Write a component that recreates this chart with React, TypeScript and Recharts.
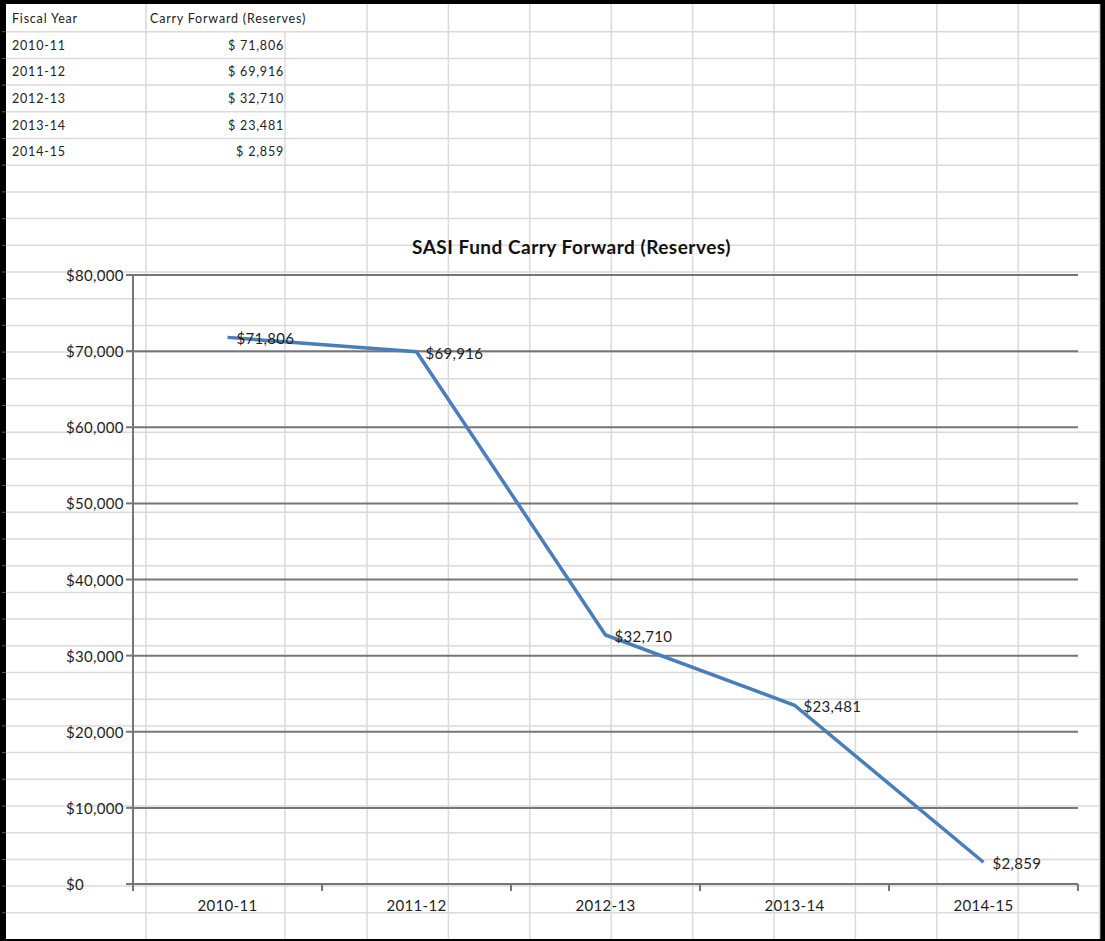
import React from 'react';
import { LineChart, Line, XAxis, YAxis, CartesianGrid, LabelList } from 'recharts';

const fiscalYears = ['2010-11', '2011-12', '2012-13', '2013-14', '2014-15'];
const carryForward = [71806, 69916, 32710, 23481, 2859];
const yTicks = [0, 10000, 20000, 30000, 40000, 50000, 60000, 70000, 80000];
const tableHeaders = ['Fiscal Year', 'Carry Forward (Reserves)'];
const chartTitle = 'SASI Fund Carry Forward (Reserves)';

const data = fiscalYears.map((year, i) => ({ year, amount: carryForward[i] }));

// page layout (screenshot of a spreadsheet)
const W = 1105;
const H = 941;
const PLOT_LEFT = 133;
const PLOT_RIGHT = 1078;
const PLOT_TOP = 275;
const PLOT_BOTTOM = 884;
const Y_AXIS_W = 70;
const X_AXIS_H = 30;
const Y_LABEL_X = 66;

const ROW_TOP = 5;
const ROW_H = 26.7;
const FONT = 'Lato, "Open Sans", sans-serif';
const AXIS_GRAY = '#767676';
const SHEET_GRID = '#dadada';
const TEXT = '#1e1e1e';

const colLines = [146, 285, 367];
for (let i = 1; i <= 9; i++) colLines.push(367 + 81.4 * i);
const rowLines: number[] = [];
for (let y = ROW_TOP + ROW_H; y < H - 2; y += ROW_H) rowLines.push(y);

const money = (v: number) => '$' + v.toLocaleString('en-US');

const cellText = { fontFamily: FONT, fontSize: 12.5, letterSpacing: 0.8, fill: '#222' };
const rowBase = (r: number) => ROW_TOP + ROW_H * r + ROW_H / 2 + 4.5;

const Sheet = () => (
  <svg width={W} height={H} style={{ position: 'absolute', left: 0, top: 0 }}>
    <rect x={0} y={0} width={W} height={H} fill="#000" />
    <rect x={6} y={4} width={1093} height={935} fill="#fff" />
    {rowLines.map((y) => (
      <g key={'r' + y}>
        <line x1={6} x2={1099} y1={y} y2={y} stroke={SHEET_GRID} strokeWidth={1.5} />
        <line x1={2} x2={6} y1={y} y2={y} stroke="#555" strokeWidth={1} />
      </g>
    ))}
    {colLines.map((x) => (
      <line
        key={'c' + x}
        x1={x}
        x2={x}
        // header text of column B spills over column C
        y1={x === 285 ? ROW_TOP + ROW_H : 4}
        y2={939}
        stroke={SHEET_GRID}
        strokeWidth={1.5}
      />
    ))}
    <text x={12} y={rowBase(0)} {...cellText}>{tableHeaders[0]}</text>
    <text x={150} y={rowBase(0)} {...cellText}>{tableHeaders[1]}</text>
    {fiscalYears.map((year, i) => (
      <g key={year}>
        <text x={12} y={rowBase(i + 1)} {...cellText}>{year}</text>
        <text x={284} y={rowBase(i + 1)} textAnchor="end" {...cellText}>
          {'$ ' + carryForward[i].toLocaleString('en-US')}
        </text>
      </g>
    ))}
  </svg>
);

const halfBand = (PLOT_RIGHT - PLOT_LEFT) / fiscalYears.length / 2;
const labelFont = { fontSize: 15, fontFamily: FONT, letterSpacing: 0.3, fill: TEXT };

const XTick = (props: any) => {
  const { x, payload, index } = props;
  const last = index === fiscalYears.length - 1;
  return (
    <g>
      <line x1={x - halfBand} x2={x - halfBand} y1={PLOT_BOTTOM} y2={PLOT_BOTTOM + 7} stroke={AXIS_GRAY} strokeWidth={2} />
      {last && (
        <line x1={x + halfBand} x2={x + halfBand} y1={PLOT_BOTTOM} y2={PLOT_BOTTOM + 7} stroke={AXIS_GRAY} strokeWidth={2} />
      )}
      <text x={x} y={PLOT_BOTTOM + 27} textAnchor="middle" {...labelFont}>
        {payload.value}
      </text>
    </g>
  );
};

// Excel left-aligns these value labels
const YTick = (props: any) => {
  const { y, payload } = props;
  return (
    <text x={Y_LABEL_X} y={y} dominantBaseline="central" {...labelFont}>
      {money(payload.value)}
    </text>
  );
};

const PointLabel = (props: any) => {
  const { x, y, value } = props;
  return (
    <text x={x + 9} y={y + 1} dominantBaseline="central" {...labelFont}>
      {money(value)}
    </text>
  );
};

export default function App() {
  return (
    <div style={{ position: 'absolute', left: 0, top: 0, width: W, height: H, overflow: 'hidden' }}>
      <Sheet />
      <div
        style={{
          position: 'absolute',
          left: 0,
          width: 1143,
          top: 235,
          textAlign: 'center',
          fontFamily: FONT,
          fontWeight: 700,
          fontSize: 19,
          letterSpacing: 0.5,
          color: '#111',
        }}
      >
        {chartTitle}
      </div>
      <div style={{ position: 'absolute', left: 0, top: 0 }}>
        <LineChart
          width={W}
          height={H}
          data={data}
          margin={{
            top: PLOT_TOP,
            right: W - PLOT_RIGHT,
            bottom: H - PLOT_BOTTOM - X_AXIS_H,
            left: PLOT_LEFT - Y_AXIS_W,
          }}
        >
          <CartesianGrid vertical={false} stroke={AXIS_GRAY} strokeWidth={2} />
          <XAxis
            dataKey="year"
            height={X_AXIS_H}
            padding={{ left: halfBand, right: halfBand }}
            axisLine={{ stroke: AXIS_GRAY, strokeWidth: 2 }}
            tickLine={false}
            tick={<XTick />}
            interval={0}
          />
          <YAxis
            width={Y_AXIS_W}
            domain={[0, 80000]}
            ticks={yTicks}
            axisLine={{ stroke: AXIS_GRAY, strokeWidth: 2 }}
            tickLine={{ stroke: AXIS_GRAY, strokeWidth: 2 }}
            tickSize={7}
            tick={<YTick />}
          />
          <Line
            type="linear"
            dataKey="amount"
            stroke="#4a7ebb"
            strokeWidth={3.5}
            dot={false}
            isAnimationActive={false}
          >
            <LabelList dataKey="amount" content={<PointLabel />} />
          </Line>
        </LineChart>
      </div>
    </div>
  );
}
